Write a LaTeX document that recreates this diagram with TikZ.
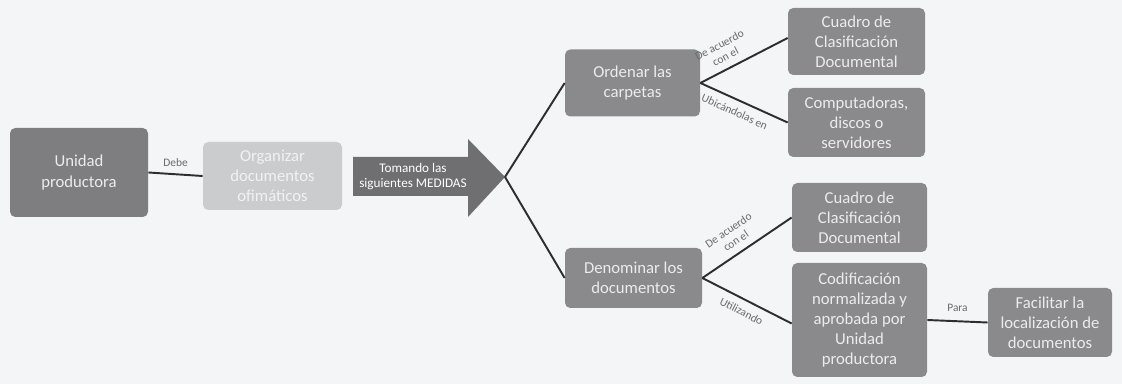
\documentclass[tikz,border=0pt]{standalone}
\usepackage{fontspec}
\setmainfont{Carlito}
\definecolor{bg}{HTML}{F3F5F7}
\definecolor{boxdark}{HTML}{8A8A8C}
\definecolor{boxunit}{HTML}{7E7E80}
\definecolor{boxlight}{HTML}{CBCCCE}
\definecolor{arrowfill}{HTML}{6F6F71}
\definecolor{txtlight}{HTML}{ECECEC}
\definecolor{linecol}{HTML}{2E2E30}
\definecolor{lblcol}{HTML}{6A6A6C}
\begin{document}
\begin{tikzpicture}[x=0.02cm,y=-0.02cm,
  box/.style={rounded corners=3pt, fill=boxdark, text=txtlight, align=center,
    inner sep=1pt, font=\fontsize{9.5}{11.5}\selectfont},
  conn/.style={draw=linecol, line width=1.1pt},
  lbl/.style={font=\fontsize{6.5}{7.5}\selectfont, text=lblcol, align=center, inner sep=1pt}]
\fill[bg] (0,0) rectangle (1122,384);
\useasboundingbox (0,0) rectangle (1122,384);

\node[box, fill=boxunit, minimum width=138*0.02cm, minimum height=89*0.02cm] (up) at (79,172.5) {Unidad\\productora};
\node[box, fill=boxlight, text=txtlight!70!white, minimum width=139*0.02cm, minimum height=68*0.02cm] (org) at (272.5,176) {Organizar\\documentos\\ofimáticos};

% big arrow
\fill[arrowfill] (353,157) -- (468,157) -- (468,139) -- (505,177) -- (468,217) -- (468,196) -- (353,196) -- cycle;
\coordinate (tip) at (505,177);
\node[text=white, align=center, font=\fontsize{7.5}{9}\selectfont] (arr) at (413,176.5) {Tomando las\\siguientes MEDIDAS};

\node[box, minimum width=135*0.02cm, minimum height=67*0.02cm] (ord) at (632.5,83) {Ordenar las\\carpetas};
\node[box, minimum width=137*0.02cm, minimum height=67*0.02cm] (c1) at (856.5,41.5) {Cuadro de\\Clasificación\\Documental};
\node[box, minimum width=137*0.02cm, minimum height=69*0.02cm] (comp) at (856.5,122.5) {Computadoras,\\discos o\\servidores};
\node[box, minimum width=137*0.02cm, minimum height=60*0.02cm] (den) at (633.5,278) {Denominar los\\documentos};
\node[box, minimum width=135*0.02cm, minimum height=69*0.02cm] (c2) at (859.5,217.5) {Cuadro de\\Clasificación\\Documental};
\node[box, minimum width=135*0.02cm, minimum height=114*0.02cm] (cod) at (859.5,320) {Codificación\\normalizada y\\aprobada por\\Unidad\\productora};
\node[box, minimum width=124*0.02cm, minimum height=69*0.02cm] (fac) at (1050,322.5) {Facilitar la\\localización de\\documentos};

\draw[conn] (up.east) -- node[lbl, above=3pt] {Debe} (org.west);
\draw[conn] (tip) -- (ord.west);
\draw[conn] (tip) -- (den.west);
\draw[conn] (ord.east) -- node[lbl, above=3pt, sloped, pos=0.35] {De acuerdo\\con el} ([yshift=2]c1.west);
\draw[conn] (ord.east) -- node[lbl, below=3pt, sloped, pos=0.45] {Ubicándolas en} (comp.west);
\draw[conn] (den.east) -- node[lbl, above=3pt, sloped, pos=0.45] {De acuerdo\\con el} (c2.west);
\draw[conn] (den.east) -- node[lbl, below=3pt, sloped, pos=0.5] {Utilizando} ([yshift=-2]cod.west);
\draw[conn] (cod.east) -- node[lbl, above=4pt] {Para} (fac.west);
\end{tikzpicture}
\end{document}
